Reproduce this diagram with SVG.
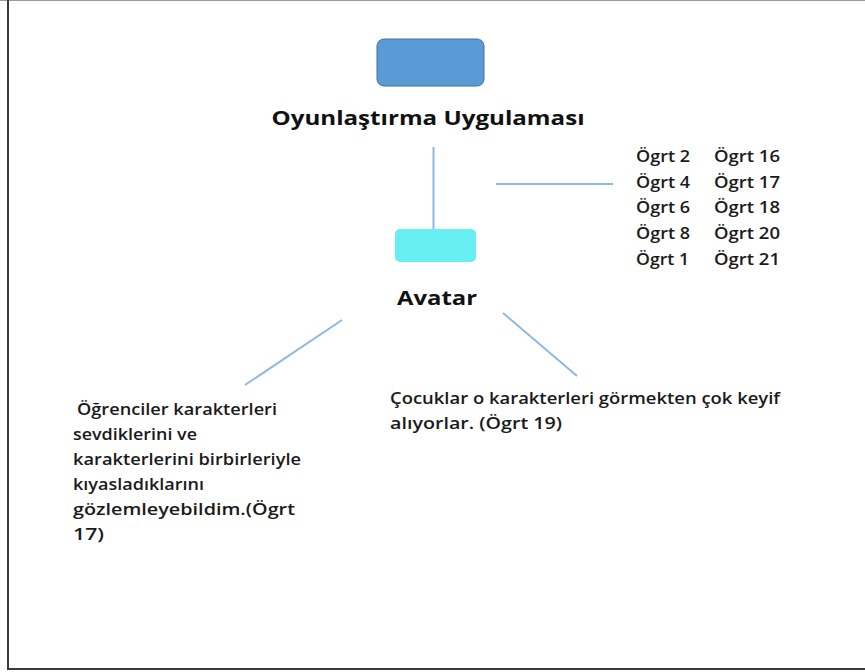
<svg xmlns="http://www.w3.org/2000/svg" width="865" height="672" viewBox="0 0 865 672">
  <style>
    .frame { fill: none; stroke: #3a3a3a; stroke-width: 2; }
    .link { stroke: #8db8e2; stroke-width: 2; fill: none; }
    .title { font-family: "Open Sans", "Liberation Sans", sans-serif; font-weight: bold; fill: #111; }
    .body { font-family: "Open Sans", "Liberation Sans", sans-serif; font-size: 16.5px; font-weight: 600; fill: #1a1a1a; }
  </style>
  <rect x="0" y="0" width="865" height="672" fill="#ffffff"/>
  <!-- page frame -->
  <line x1="0" y1="0.5" x2="865" y2="0.5" stroke="#9a9a9a" stroke-width="1"/>
  <line x1="8" y1="0" x2="8" y2="669" class="frame"/>
  <line x1="7" y1="669" x2="865" y2="669" class="frame"/>

  <g id="connectors">
    <line x1="433.5" y1="147" x2="433.5" y2="229" class="link"/>
    <line x1="496" y1="184" x2="613" y2="184" class="link"/>
    <line x1="342" y1="320" x2="245" y2="385" class="link"/>
    <line x1="503" y1="313" x2="577" y2="376" class="link"/>
  </g>

  <g id="node-oyunlastirma">
    <rect x="377" y="39" width="107" height="47" rx="7" fill="#5b9bd5" stroke="#41719c" stroke-width="1"/>
    <text x="428" y="125" text-anchor="middle" font-size="20" class="title" textLength="313" lengthAdjust="spacingAndGlyphs">Oyunlaştırma Uygulaması</text>
  </g>

  <g id="node-ogretmenler" class="body">
    <text x="636" y="162" textLength="54" lengthAdjust="spacingAndGlyphs">Ögrt 2</text>
    <text x="636" y="188" textLength="54" lengthAdjust="spacingAndGlyphs">Ögrt 4</text>
    <text x="636" y="213" textLength="54" lengthAdjust="spacingAndGlyphs">Ögrt 6</text>
    <text x="636" y="239" textLength="54" lengthAdjust="spacingAndGlyphs">Ögrt 8</text>
    <text x="636" y="265" textLength="53" lengthAdjust="spacingAndGlyphs">Ögrt 1</text>
    <text x="714" y="162" textLength="66" lengthAdjust="spacingAndGlyphs">Ögrt 16</text>
    <text x="714" y="188" textLength="66" lengthAdjust="spacingAndGlyphs">Ögrt 17</text>
    <text x="714" y="213" textLength="66" lengthAdjust="spacingAndGlyphs">Ögrt 18</text>
    <text x="714" y="239" textLength="66" lengthAdjust="spacingAndGlyphs">Ögrt 20</text>
    <text x="714" y="265" textLength="66" lengthAdjust="spacingAndGlyphs">Ögrt 21</text>
  </g>

  <g id="node-avatar">
    <rect x="395" y="229" width="81" height="33" rx="5" fill="#66eef2"/>
    <text x="437" y="305" text-anchor="middle" font-size="19" class="title" textLength="80" lengthAdjust="spacingAndGlyphs">Avatar</text>
  </g>

  <g id="node-ogrt17" class="body">
    <text x="77" y="415" textLength="200" lengthAdjust="spacingAndGlyphs">Öğrenciler karakterleri</text>
    <text x="73" y="440" textLength="124" lengthAdjust="spacingAndGlyphs">sevdiklerini ve</text>
    <text x="73" y="465" textLength="228" lengthAdjust="spacingAndGlyphs">karakterlerini birbirleriyle</text>
    <text x="73" y="490" textLength="131" lengthAdjust="spacingAndGlyphs">kıyasladıklarını</text>
    <text x="73" y="515" textLength="222" lengthAdjust="spacingAndGlyphs">gözlemleyebildim.(Ögrt</text>
    <text x="73" y="540" textLength="31" lengthAdjust="spacingAndGlyphs">17)</text>
  </g>

  <g id="node-ogrt19" class="body">
    <text x="390" y="404" textLength="390" lengthAdjust="spacingAndGlyphs">Çocuklar o karakterleri görmekten çok keyif</text>
    <text x="390" y="429" textLength="172" lengthAdjust="spacingAndGlyphs">alıyorlar. (Ögrt 19)</text>
  </g>
</svg>
